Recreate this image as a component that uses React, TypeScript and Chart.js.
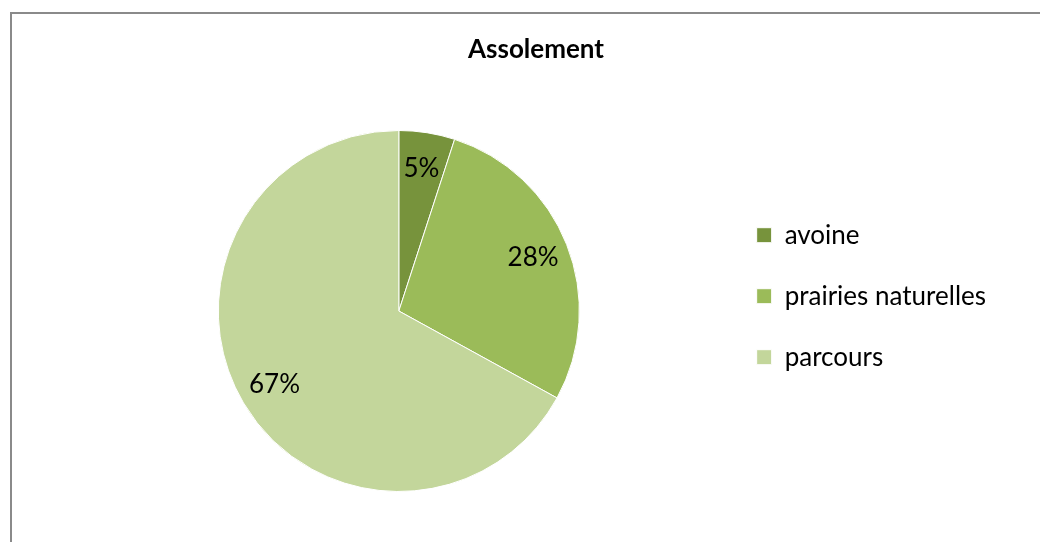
import React, { useEffect, useRef } from "react";
import { Chart, registerables } from "chart.js";

Chart.register(...registerables);

const chartTitle = "Assolement";
const categories = ["avoine", "prairies naturelles", "parcours"];
const values = [5, 28, 67];
const colors = ["#77933C", "#9BBB59", "#C3D69B"];

const FONT = "Lato, 'Open Sans', sans-serif";

const pctLabels = {
  id: "pctLabels",
  afterDatasetsDraw(chart: any) {
    const ctx = chart.ctx;
    const meta = chart.getDatasetMeta(0);
    const data = chart.data.datasets[0].data as number[];
    const total = data.reduce((a, b) => a + b, 0);
    ctx.save();
    ctx.font = `26px ${FONT}`;
    ctx.fillStyle = "#000";
    ctx.textAlign = "center";
    ctx.textBaseline = "middle";
    meta.data.forEach((arc: any, i: number) => {
      const { x, y, startAngle, endAngle, outerRadius } = arc.getProps(
        ["x", "y", "startAngle", "endAngle", "outerRadius"],
        true
      );
      const mid = (startAngle + endAngle) / 2;
      const r = outerRadius * 0.8;
      ctx.fillText(
        Math.round((data[i] / total) * 100) + "%",
        x + Math.cos(mid) * r,
        y + Math.sin(mid) * r
      );
    });
    ctx.restore();
  },
};

export default function App() {
  const ref = useRef<HTMLCanvasElement | null>(null);
  useEffect(() => {
    if (!ref.current) return;
    const chart = new Chart(ref.current, {
      type: "pie",
      data: {
        labels: categories,
        datasets: [
          {
            data: values,
            backgroundColor: colors,
            borderColor: "#ffffff",
            borderWidth: 1,
          },
        ],
      },
      options: {
        animation: false,
        responsive: false,
        layout: { padding: { left: 76, right: 44, top: 0, bottom: 50 } },
        plugins: {
          title: {
            display: true,
            text: chartTitle,
            color: "#000",
            font: { family: FONT, size: 26, weight: "bold" },
            padding: { top: 34.4, bottom: 64.4 },
          },
          legend: {
            position: "right",
            fullSize: true,
            labels: {
              boxWidth: 15,
              boxHeight: 15,
              padding: 35,
              color: "#000",
              font: { family: FONT, size: 26 },
            },
            title: {
              display: true,
              text: " ",
              font: { size: 12 },
              padding: { top: 43, bottom: 43 },
            },
          },
          tooltip: { enabled: false },
        },
      } as any,
      plugins: [pctLabels],
    });
    return () => chart.destroy();
  }, []);

  return (
    <div
      style={{
        position: "fixed",
        left: 0,
        top: 0,
        width: 1040,
        height: 542,
        overflow: "hidden",
        background: "#fff",
      }}
    >
      <div
        style={{
          position: "absolute",
          left: 10,
          top: 12,
          width: 1100,
          height: 600,
          borderLeft: "2px solid #8a8a8a",
          borderTop: "2px solid #8a8a8a",
        }}
      />
      <canvas
        ref={ref}
        width={1040}
        height={542}
        style={{ position: "absolute", left: 0, top: 0, display: "block" }}
      />
    </div>
  );
}
